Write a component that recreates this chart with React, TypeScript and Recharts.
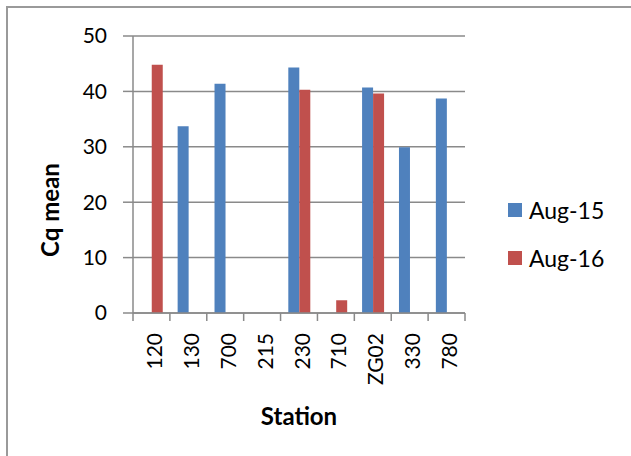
import { Bar, BarChart, CartesianGrid, Legend, XAxis, YAxis } from "recharts";

const stations = ["120", "130", "700", "215", "230", "710", "ZG02", "330", "780"];
const aug15 = [null, 33.7, 41.4, null, 44.3, null, 40.7, 29.9, 38.7];
const aug16 = [44.8, null, null, null, 40.3, 2.3, 39.6, null, null];
const yTicks = [0, 10, 20, 30, 40, 50];

const data = stations.map((station, i) => ({
  station,
  aug15: aug15[i],
  aug16: aug16[i],
}));

const WIDTH = 631;
const HEIGHT = 456;
const PLOT_LEFT = 133;
const PLOT_RIGHT = 465;
const PLOT_TOP = 36;
const PLOT_BOTTOM = 313;
const LEGEND_WIDTH = 120;
const BAND = (PLOT_RIGHT - PLOT_LEFT) / stations.length;

const FONT = "Lato, 'Open Sans', sans-serif";
const GRID = "#8a8a8a";
const BLUE = "#4f81bd";
const RED = "#c0504d";

// category labels run upward; tick marks sit on the band edges like Excel
function StationTick(props: any) {
  const { x, y, payload, index } = props;
  const half = BAND / 2;
  return (
    <g>
      <line x1={x - half} x2={x - half} y1={y} y2={y + 8} stroke={GRID} strokeWidth={1.5} />
      {index === stations.length - 1 ? (
        <line x1={x + half} x2={x + half} y1={y} y2={y + 8} stroke={GRID} strokeWidth={1.5} />
      ) : null}
      <text
        x={x + 2}
        y={y + 20}
        transform={`rotate(-90, ${x + 2}, ${y + 20})`}
        textAnchor="end"
        dominantBaseline="central"
        fontSize={21}
        fontFamily={FONT}
        fill="#000"
      >
        {payload.value}
      </text>
    </g>
  );
}

function YTitle() {
  const cx = 49;
  const cy = 210;
  return (
    <text
      x={cx}
      y={cy}
      transform={`rotate(-90, ${cx}, ${cy})`}
      textAnchor="middle"
      dominantBaseline="central"
      fontSize={24}
      fontWeight={700}
      fontFamily={FONT}
      fill="#000"
    >
      Cq mean
    </text>
  );
}

function SeriesLegend(props: any) {
  const items = props.payload ?? [];
  return (
    <div style={{ fontFamily: FONT, fontSize: 23, color: "#000" }}>
      {items.map((item: any) => (
        <div key={item.value} style={{ display: "flex", alignItems: "center", height: 48 }}>
          <span style={{ width: 14, height: 14, background: item.color, marginRight: 7 }} />
          <span>{item.value}</span>
        </div>
      ))}
    </div>
  );
}

export default function App() {
  return (
    <div style={{ position: "absolute", left: 0, top: 0, width: WIDTH, height: HEIGHT, background: "#fff", overflow: "hidden" }}>
      <div
        style={{
          position: "absolute",
          left: 6,
          top: 6,
          width: WIDTH,
          height: HEIGHT,
          borderTop: "2px solid #9a9a9a",
          borderLeft: "2px solid #9a9a9a",
        }}
      />
      <div style={{ position: "absolute", left: 0, top: 0 }}>
        <BarChart
          width={WIDTH}
          height={HEIGHT}
          data={data}
          margin={{ top: PLOT_TOP, right: WIDTH - PLOT_RIGHT - LEGEND_WIDTH, left: 0, bottom: 0 }}
          barCategoryGap="21%"
          barGap={0}
        >
          <CartesianGrid horizontal vertical={false} stroke={GRID} strokeWidth={1.5} />
          <XAxis
            dataKey="station"
            height={HEIGHT - PLOT_BOTTOM}
            tickLine={false}
            tickSize={0}
            tickMargin={0}
            axisLine={{ stroke: GRID, strokeWidth: 1.5 }}
            tick={<StationTick />}
            interval={0}
            label={{
              value: "Station",
              position: "insideBottom",
              offset: 31,
              fontSize: 24,
              fontWeight: 700,
              fontFamily: FONT,
              fill: "#000",
            }}
          />
          <YAxis
            width={PLOT_LEFT}
            domain={[0, 50]}
            ticks={yTicks}
            tickSize={10}
            tickMargin={16}
            tickLine={{ stroke: GRID, strokeWidth: 1.5 }}
            axisLine={{ stroke: GRID, strokeWidth: 1.5 }}
            tick={{ fontSize: 21, fontFamily: FONT, fill: "#000" }}
            label={{ content: <YTitle /> }}
          />
          <Legend
            layout="vertical"
            align="right"
            verticalAlign="top"
            wrapperStyle={{ left: 508, top: 186, width: LEGEND_WIDTH }}
            content={<SeriesLegend />}
          />
          <Bar dataKey="aug15" name="Aug-15" fill={BLUE} isAnimationActive={false} />
          <Bar dataKey="aug16" name="Aug-16" fill={RED} isAnimationActive={false} />
        </BarChart>
      </div>
    </div>
  );
}
